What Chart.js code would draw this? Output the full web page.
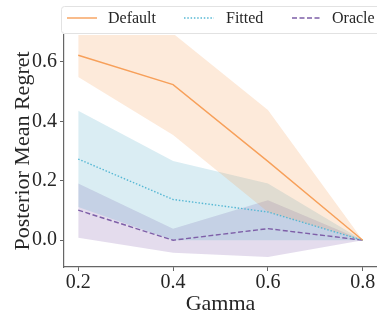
<!DOCTYPE html>
<html>
<head>
<meta charset="utf-8">
<script src="https://cdn.jsdelivr.net/npm/chart.js@4.4.1/dist/chart.umd.min.js"></script>
<style>
html,body{margin:0;padding:0;background:#fff;}
#wrap{width:377px;height:320px;position:relative;}
</style>
</head>
<body>
<div id="wrap"><canvas id="c" width="377" height="320"></canvas></div>
<script>
// ---- data ----
const gammas = [0.2, 0.4, 0.6, 0.8];
const xTicks = [0.2, 0.4, 0.6, 0.8];
const yTicks = [0.0, 0.2, 0.4, 0.6];
const seriesNames = ['Default', 'Fitted', 'Oracle'];

const defaultMean  = [0.622, 0.523, 0.265, 0.0];
const defaultLower = [0.549, 0.354, 0.095, 0.0];
const defaultUpper = [0.75, 0.695, 0.438, 0.0];

const fittedMean  = [0.273, 0.137, 0.095, 0.0];
const fittedLower = [0.112, 0.0, 0.0, 0.0];
const fittedUpper = [0.435, 0.266, 0.191, 0.0];

const oracleMean  = [0.101, 0.0, 0.039, 0.0];
const oracleLower = [0.008, -0.042, -0.056, 0.0];
const oracleUpper = [0.191, 0.039, 0.134, 0.0];

const xTitle = 'Gamma';
const yTitle = 'Posterior Mean Regret';

// ---- styles ----
const colors = ['#f7a05a', '#56b8d4', '#7e5fa8'];
const fills = ['rgba(247,150,70,0.2)', 'rgba(70,165,195,0.2)', 'rgba(120,82,165,0.2)'];
const dashes = [[], [1.5, 1.8], [5, 2.5]];
const FONT = "'Liberation Serif', 'DejaVu Serif', serif";
const TXT = '#262626';

const pts = arr => gammas.map((g, i) => ({x: g, y: arr[i]}));

function band(upper, lower, fillColor) {
  return [
    {data: pts(upper), borderWidth: 0, pointRadius: 0, fill: '+1', backgroundColor: fillColor, borderColor: 'rgba(0,0,0,0)'},
    {data: pts(lower), borderWidth: 0, pointRadius: 0, fill: false, backgroundColor: fillColor, borderColor: 'rgba(0,0,0,0)'}
  ];
}
function meanLine(arr, i) {
  return {label: seriesNames[i], data: pts(arr), borderColor: colors[i], borderWidth: 1.4,
          borderDash: dashes[i], pointRadius: 0, fill: false, tension: 0};
}

const datasets = [
  ...band(defaultUpper, defaultLower, fills[0]),
  ...band(fittedUpper, fittedLower, fills[1]),
  ...band(oracleUpper, oracleLower, fills[2]),
  meanLine(defaultMean, 0),
  meanLine(fittedMean, 1),
  meanLine(oracleMean, 2)
];

const legendPlugin = {
  id: 'boxLegend',
  afterDraw(chart) {
    const ctx = chart.ctx;
    ctx.save();
    ctx.beginPath();
    ctx.roundRect(61.5, 6.5, 330, 27, 3);
    ctx.fillStyle = 'rgba(255,255,255,0.85)';
    ctx.fill();
    ctx.strokeStyle = '#e2e2e2';
    ctx.lineWidth = 1;
    ctx.stroke();
    const items = [{lx: 67, tx: 108}, {lx: 184, tx: 226}, {lx: 292, tx: 332}];
    ctx.font = "16px " + FONT;
    ctx.textBaseline = 'middle';
    ctx.fillStyle = TXT;
    items.forEach((it, i) => {
      ctx.beginPath();
      ctx.setLineDash(dashes[i]);
      ctx.strokeStyle = colors[i];
      ctx.lineWidth = 1.4;
      ctx.moveTo(it.lx, 18);
      ctx.lineTo(it.lx + 30, 18);
      ctx.stroke();
      ctx.setLineDash([]);
      ctx.fillText(seriesNames[i], it.tx, 18.5);
    });
    ctx.restore();
  }
};

new Chart(document.getElementById('c'), {
  type: 'line',
  data: {datasets},
  plugins: [legendPlugin],
  options: {
    responsive: false,
    animation: false,
    devicePixelRatio: 1,
    layout: {padding: {top: 35, left: 0, right: 0, bottom: 0}},
    plugins: {
      legend: {display: false},
      tooltip: {enabled: false},
      filler: {drawTime: 'beforeDatasetsDraw'}
    },
    scales: {
      x: {
        type: 'linear', min: 0.17, max: 0.83,
        afterBuildTicks: s => { s.ticks = xTicks.map(v => ({value: v})); },
        afterFit: s => { s.height = 53; },
        grid: {display: true, drawOnChartArea: false, drawTicks: true, tickLength: 4, color: '#666', lineWidth: 1},
        border: {display: true, color: '#666', width: 1.2},
        ticks: {color: TXT, font: {family: FONT, size: 20}, padding: 0, maxRotation: 0,
                callback: v => v.toFixed(1)},
        title: {display: true, text: xTitle, color: TXT, font: {family: FONT, size: 22}, padding: {top: 0, bottom: 3}}
      },
      y: {
        type: 'linear', min: -0.09, max: 0.69,
        afterBuildTicks: s => { s.ticks = yTicks.map(v => ({value: v})); },
        afterFit: s => { s.width = 64; },
        grid: {display: true, drawOnChartArea: false, drawTicks: true, tickLength: 4, color: '#666', lineWidth: 1},
        border: {display: true, color: '#666', width: 1.2},
        ticks: {color: TXT, font: {family: FONT, size: 20}, padding: 3,
                callback: v => v.toFixed(1)},
        title: {display: true, text: yTitle, color: TXT, font: {family: FONT, size: 22}, padding: {top: 10, bottom: 0}}
      }
    }
  }
});
</script>
</body>
</html>
